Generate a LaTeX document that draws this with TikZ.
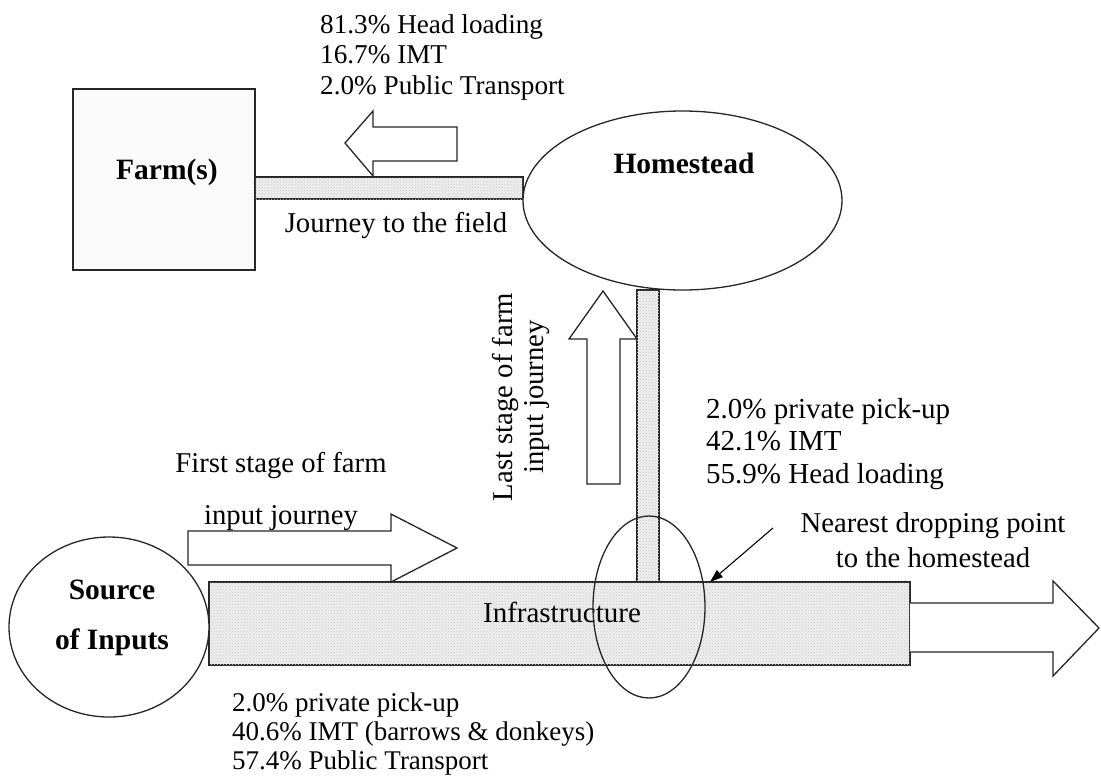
\documentclass[tikz,border=0pt]{standalone}
\usepackage{fontspec}
\setmainfont{Liberation Serif}
\usetikzlibrary{arrows.meta,patterns,shapes.geometric}

\tikzset{
  outline/.style={draw=black!85, line width=1.3pt},
  road/.style={outline, fill=gray!14, postaction={pattern=crosshatch dots, pattern color=gray!40}},
  blockarrow/.style={outline, fill=white, line join=miter},
  label/.style={font=\fontsize{28.7}{35}\selectfont, inner sep=0pt},
  title/.style={font=\fontsize{29.5}{50}\selectfont\bfseries, inner sep=0pt, align=center},
  % anchored at the baseline of the last line
  list/.style={inner sep=0pt, align=left, anchor=base west},
  pointer/.style={line width=1.1pt, -{Triangle[length=13pt,width=9pt]}}
}

\begin{document}
\begin{tikzpicture}[x=1pt,y=-1pt]
\useasboundingbox (0,0) rectangle (1101,780);

% farm plot
\draw[outline, fill=gray!4] (73,89) rectangle (255,270);
\node[title] (farm) at (167,172) {Farm(s)};

% path from homestead to the field
\draw[road] (255,177) rectangle (523,199);

% homestead
\node[outline, ellipse, minimum width=319pt, minimum height=179pt, fill=white] (home) at (682.5,200.5) {};
\node[title] (hometext) at (684,163) {Homestead};

% journey to the field: arrow pointing to the farm
\draw[blockarrow] (345,143) -- (373,111) -- (373,127) -- (457,127) -- (457,161) -- (373,161) -- (373,176) -- cycle;
\node[list, font=\fontsize{27.2}{30.5}\selectfont] (fieldmodes) at (320,94) {81.3\% Head loading\\16.7\% IMT\\2.0\% Public Transport};
\node[label] (fieldtext) at (396,225) {Journey to the field};

% last stage: track from dropping point up to the homestead
\draw[road] (637,290) rectangle (659,586);
\draw[blockarrow] (603,291) -- (637,339) -- (620,339) -- (620,484) -- (587,484) -- (587,339) -- (569,339) -- cycle;
\node[label, rotate=90, align=center, font=\fontsize{28.7}{31}\selectfont] (laststage) at (521,397) {Last stage of farm\\input journey};
\node[list, font=\fontsize{29}{32.5}\selectfont] (lastmodes) at (706,483) {2.0\% private pick-up\\42.1\% IMT\\55.9\% Head loading};

% infrastructure and onward direction
\draw[road] (209,582) rectangle (910,665);
\draw[blockarrow] (910,603) -- (1053,603) -- (1053,581) -- (1099,628) -- (1053,676) -- (1053,652) -- (910,652);
\node[inner sep=0pt, font=\fontsize{29}{35}\selectfont] (infra) at (562,612) {Infrastructure};

% first stage arrow
\draw[blockarrow] (188,531) -- (391,531) -- (391,514) -- (457,548) -- (391,582) -- (391,565) -- (188,565) -- cycle;
\node[label] (firststage) at (281,465) {First stage of farm};
\node[label] (firststage2) at (281,518) {input journey};

% source of inputs
\node[outline, ellipse, minimum width=200pt, minimum height=180pt, fill=white] (source) at (109,627) {};
\node[title] (sourcetext) at (112,618) {Source\\of Inputs};
\node[list, font=\fontsize{27}{29}\selectfont] (firstmodes) at (232,769) {2.0\% private pick-up\\40.6\% IMT (barrows \& donkeys)\\57.4\% Public Transport};

% nearest dropping point
\node[outline, ellipse, minimum width=112pt, minimum height=182pt] (drop) at (649,607) {};
\node[label, align=center] (neartext) at (933,540) {Nearest dropping point\\to the homestead};
\coordinate (droptail) at (773,528);
\coordinate (droptip) at (710,582);
\draw[pointer] (droptail) -- (droptip);
\end{tikzpicture}
\end{document}
